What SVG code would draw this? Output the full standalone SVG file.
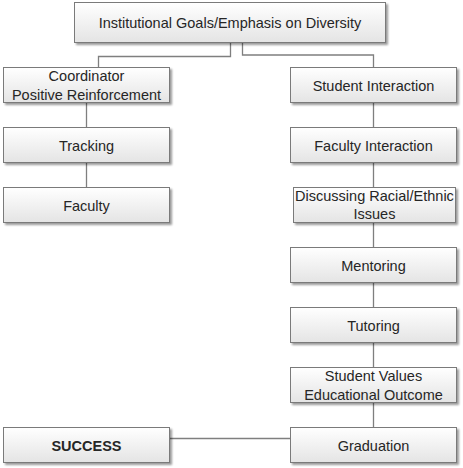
<svg xmlns="http://www.w3.org/2000/svg" width="463" height="468" viewBox="0 0 463 468">
<defs>
<linearGradient id="g" x1="0" y1="0" x2="0" y2="1">
<stop offset="0" stop-color="#ffffff"/>
<stop offset="1" stop-color="#e4e4e4"/>
</linearGradient>
<filter id="sh" x="-10%" y="-10%" width="130%" height="140%">
<feGaussianBlur in="SourceAlpha" stdDeviation="0.8"/>
<feOffset dx="2" dy="2" result="o"/>
<feComponentTransfer><feFuncA type="linear" slope="0.4"/></feComponentTransfer>
<feMerge><feMergeNode/><feMergeNode in="SourceGraphic"/></feMerge>
</filter>
</defs>
<style>
.b{fill:url(#g);stroke:#7a7a7a;stroke-width:1;filter:url(#sh)}
.t{font-family:"Liberation Sans",Arial,sans-serif;font-size:14.5px;fill:#262626;text-anchor:middle}
.c{fill:none;stroke:#7f7f7f;stroke-width:1.3}
</style>
<rect width="463" height="468" fill="#ffffff"/>
<g id="connectors">
<polyline class="c" points="230.5,43 230.5,56.5 98.5,56.5 98.5,67"/>
<polyline class="c" points="242.5,43 242.5,55 373.5,55 373.5,67"/>
<line class="c" x1="86.5" y1="103" x2="86.5" y2="187"/>
<line class="c" x1="373.5" y1="103" x2="373.5" y2="427"/>
<line class="c" x1="170" y1="438.5" x2="290" y2="438.5"/>
</g>
<g id="n-top"><rect class="b" x="74.5" y="2.5" width="311" height="40"/><text class="t" x="230" y="28">Institutional Goals/Emphasis on Diversity</text></g>
<g id="n-coord"><rect class="b" x="3.5" y="67.5" width="166" height="35"/><text class="t" x="86.5" y="81">Coordinator</text><text class="t" x="86.5" y="100">Positive Reinforcement</text></g>
<g id="n-tracking"><rect class="b" x="3.5" y="127.5" width="166" height="35"/><text class="t" x="86.5" y="150.5">Tracking</text></g>
<g id="n-faculty"><rect class="b" x="3.5" y="187.5" width="166" height="35"/><text class="t" x="86.5" y="210.5">Faculty</text></g>
<g id="n-student"><rect class="b" x="290.5" y="67.5" width="166" height="35"/><text class="t" x="373.5" y="90.5">Student Interaction</text></g>
<g id="n-facint"><rect class="b" x="290.5" y="127.5" width="166" height="35"/><text class="t" x="373.5" y="150.5">Faculty Interaction</text></g>
<g id="n-disc"><rect class="b" x="293.5" y="187.5" width="162" height="35"/><text class="t" x="374.5" y="201">Discussing Racial/Ethnic</text><text class="t" x="374.5" y="219">Issues</text></g>
<g id="n-mentor"><rect class="b" x="290.5" y="247.5" width="166" height="35"/><text class="t" x="373.5" y="270.5">Mentoring</text></g>
<g id="n-tutor"><rect class="b" x="290.5" y="307.5" width="166" height="35"/><text class="t" x="373.5" y="330.5">Tutoring</text></g>
<g id="n-values"><rect class="b" x="290.5" y="367.5" width="166" height="35"/><text class="t" x="373.5" y="381">Student Values</text><text class="t" x="373.5" y="400">Educational Outcome</text></g>
<g id="n-grad"><rect class="b" x="290.5" y="427.5" width="166" height="35"/><text class="t" x="373.5" y="450.5">Graduation</text></g>
<g id="n-success"><rect class="b" x="3.5" y="427.5" width="166" height="35"/><text class="t" x="86.5" y="450.5" font-weight="bold">SUCCESS</text></g>
</svg>
